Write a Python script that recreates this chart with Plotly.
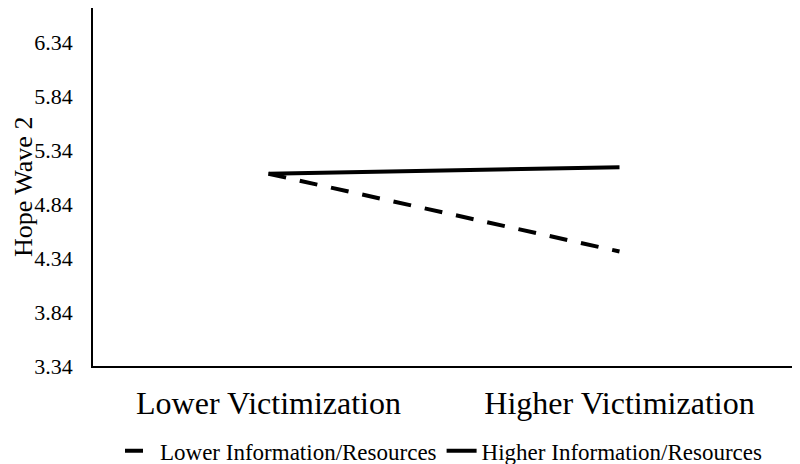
import plotly.graph_objects as go

# Data
victimization = ["Lower Victimization", "Higher Victimization"]
lower_info = [5.12, 4.40]
higher_info = [5.12, 5.18]
y_ticks = [3.34, 3.84, 4.34, 4.84, 5.34, 5.84, 6.34]

FONT = "Liberation Serif, Times New Roman, serif"

fig = go.Figure()

# Lower information/resources (dashed)
fig.add_trace(
    go.Scatter(
        x=victimization,
        y=lower_info,
        mode="lines",
        name="Lower Information/Resources",
        line=dict(color="black", width=4, dash="18px,14px"),
    )
)

# Higher information/resources (solid)
fig.add_trace(
    go.Scatter(
        x=victimization,
        y=higher_info,
        mode="lines",
        name="Higher Information/Resources",
        line=dict(color="black", width=4),
    )
)

# page body has an 8px margin, so the figure is sized to fit the window
fig.update_layout(
    width=792,
    height=456,
    margin=dict(l=85, r=5, t=0, b=98, autoexpand=False),
    plot_bgcolor="white",
    paper_bgcolor="white",
    font=dict(family=FONT, color="black"),
    showlegend=True,
    legend=dict(
        orientation="h",
        x=0.5,
        xanchor="center",
        y=-0.237,
        yanchor="middle",
        font=dict(size=23, family=FONT),
    ),
    # y axis title as a rotated annotation so it sits at the far left
    annotations=[
        dict(
            text="Hope Wave 2",
            textangle=-90,
            xref="paper",
            yref="paper",
            x=0,
            y=0.5,
            xanchor="center",
            yanchor="middle",
            xshift=-70,
            showarrow=False,
            font=dict(size=26, family=FONT),
        )
    ],
)

fig.update_xaxes(
    type="category",
    range=[-0.5, 1.5],
    showline=True,
    linecolor="black",
    linewidth=1.5,
    showgrid=False,
    zeroline=False,
    automargin=False,
    ticks="outside",
    ticklen=8,
    tickcolor="rgba(0,0,0,0)",
    tickfont=dict(size=32, family=FONT),
)

fig.update_yaxes(
    range=[3.34, 6.655],
    tickvals=y_ticks,
    ticktext=[f"{v:.2f}" for v in y_ticks],
    showline=True,
    linecolor="black",
    linewidth=1.5,
    showgrid=False,
    zeroline=False,
    automargin=False,
    ticks="outside",
    ticklen=14,
    tickcolor="rgba(0,0,0,0)",
    tickfont=dict(size=22, family=FONT),
)

fig.write_html("out.html")
